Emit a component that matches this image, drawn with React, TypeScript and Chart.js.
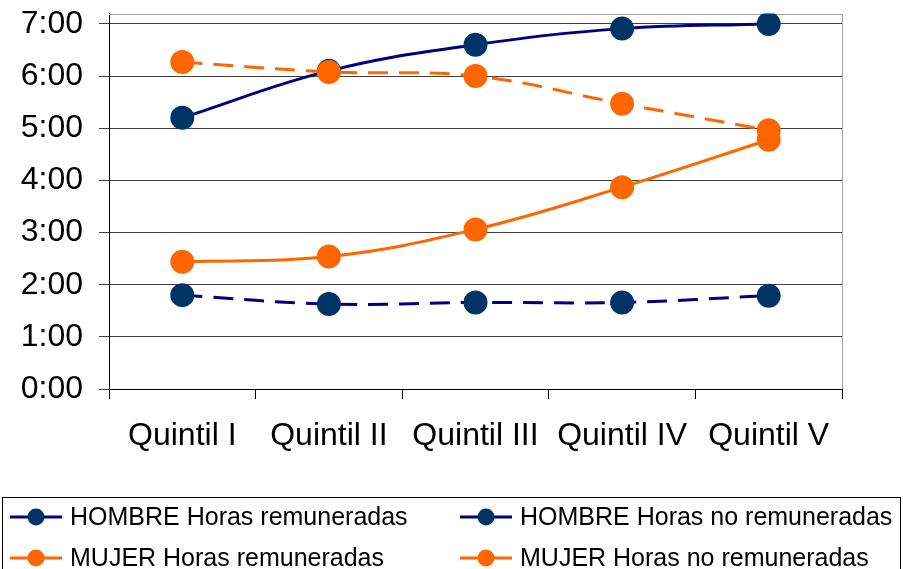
import React, { useEffect, useRef } from "react";
import { Chart, registerables } from "chart.js";

Chart.register(...registerables);

const categories = ["Quintil I", "Quintil II", "Quintil III", "Quintil IV", "Quintil V"];
const hombreRemuneradas = [5.2, 6.1, 6.6, 6.91, 7.0];
const hombreNoRemuneradas = [1.8, 1.63, 1.66, 1.66, 1.79];
const mujerRemuneradas = [2.44, 2.54, 3.06, 3.87, 4.78];
const mujerNoRemuneradas = [6.27, 6.08, 6.0, 5.47, 4.96];
const yTicks = [0, 1, 2, 3, 4, 5, 6, 7];

const FONT = '"Liberation Sans", Arial, sans-serif';
const NAVY_LINE = "#000080";
const NAVY_POINT = "#003366";
const ORANGE = "#FF6600";

const legendPlugin = {
  id: "customLegend",
  afterDraw(chart: any) {
    const ctx = chart.ctx;
    ctx.save();
    ctx.strokeStyle = "#000";
    ctx.lineWidth = 1;
    ctx.strokeRect(2.5, 497.5, 898, 100);
    const colX = [10, 460];
    const rowY = [517, 558];
    chart.data.datasets.forEach((ds: any, i: number) => {
      const x0 = colX[i % 2];
      const y = rowY[Math.floor(i / 2)];
      ctx.strokeStyle = ds.borderColor;
      ctx.lineWidth = 3;
      ctx.setLineDash([]);
      ctx.beginPath();
      ctx.moveTo(x0, y);
      ctx.lineTo(x0 + 52, y);
      ctx.stroke();
      ctx.fillStyle = ds.pointBackgroundColor;
      ctx.beginPath();
      ctx.arc(x0 + 26, y, 8.5, 0, Math.PI * 2);
      ctx.fill();
      ctx.fillStyle = "#000";
      ctx.font = `25px ${FONT}`;
      ctx.textBaseline = "middle";
      ctx.textAlign = "left";
      ctx.fillText(ds.label, x0 + 60, y + 1);
    });
    ctx.restore();
  },
};

const framePlugin = {
  id: "frame",
  beforeDatasetsDraw(chart: any) {
    const { ctx, chartArea } = chart;
    ctx.save();
    ctx.strokeStyle = "#a0a0a0";
    ctx.lineWidth = 1;
    ctx.beginPath();
    const top = Math.round(chartArea.top) + 0.5;
    const right = Math.round(chartArea.right) + 0.5;
    ctx.moveTo(chartArea.left, top);
    ctx.lineTo(right, top);
    ctx.lineTo(right, chartArea.bottom);
    ctx.stroke();
    ctx.restore();
  },
};

export default function App() {
  const ref = useRef<HTMLCanvasElement>(null);
  useEffect(() => {
    document.body.style.margin = "0";
    const chart = new Chart(ref.current!, {
      type: "line",
      data: {
        labels: categories,
        datasets: [
          {
            label: "HOMBRE Horas remuneradas",
            data: hombreRemuneradas,
            borderColor: NAVY_LINE,
            pointBackgroundColor: NAVY_POINT,
            pointBorderColor: NAVY_POINT,
            borderWidth: 3,
            pointRadius: 10.5,
            tension: 0.4,
            order: 3,
          },
          {
            label: "HOMBRE Horas no remuneradas",
            data: hombreNoRemuneradas,
            borderColor: NAVY_LINE,
            pointBackgroundColor: NAVY_POINT,
            pointBorderColor: NAVY_POINT,
            borderWidth: 3,
            borderDash: [20, 11],
            pointRadius: 10.5,
            tension: 0.4,
            order: 2,
          },
          {
            label: "MUJER Horas remuneradas",
            data: mujerRemuneradas,
            borderColor: ORANGE,
            pointBackgroundColor: ORANGE,
            pointBorderColor: ORANGE,
            borderWidth: 3,
            pointRadius: 10.5,
            tension: 0.4,
            order: 1,
          },
          {
            label: "MUJER Horas no remuneradas",
            data: mujerNoRemuneradas,
            borderColor: ORANGE,
            pointBackgroundColor: ORANGE,
            pointBorderColor: ORANGE,
            borderWidth: 3,
            borderDash: [20, 11],
            pointRadius: 10.5,
            tension: 0.4,
            order: 0,
          },
        ],
      },
      options: {
        responsive: false,
        animation: false,
        layout: { padding: { top: 11, right: 61, bottom: 80, left: 0 } },
        plugins: {
          legend: { display: false },
          tooltip: { enabled: false },
        },
        scales: {
          x: {
            offset: true,
            grid: {
              offset: true,
              drawOnChartArea: false,
              drawTicks: true,
              tickLength: 10,
              color: "#000",
            },
            border: { display: true, color: "#000", width: 1 },
            ticks: {
              color: "#000",
              font: { family: FONT, size: 32 },
              padding: 18,
              maxRotation: 0,
              autoSkip: false,
            },
            afterFit: (scale: any) => {
              scale.height = 100;
              scale.paddingLeft = 0;
              scale.paddingRight = 0;
            },
          },
          y: {
            min: 0,
            max: 7.2,
            afterBuildTicks: (scale: any) => {
              scale.ticks = yTicks.map((v) => ({ value: v }));
            },
            grid: {
              drawOnChartArea: true,
              drawTicks: true,
              tickLength: 10,
              color: "#404040",
            },
            border: { display: true, color: "#000", width: 1 },
            ticks: {
              color: "#000",
              font: { family: FONT, size: 32 },
              padding: 16,
              callback: (v: any) => `${v}:00`,
            },
            afterFit: (scale: any) => {
              scale.width = 109;
              scale.paddingTop = 0;
              scale.paddingBottom = 0;
            },
          },
        },
      },
      plugins: [framePlugin, legendPlugin],
    });
    return () => chart.destroy();
  }, []);
  return <canvas ref={ref} width={903} height={569} style={{ display: "block", width: 903, height: 569 }} />;
}
